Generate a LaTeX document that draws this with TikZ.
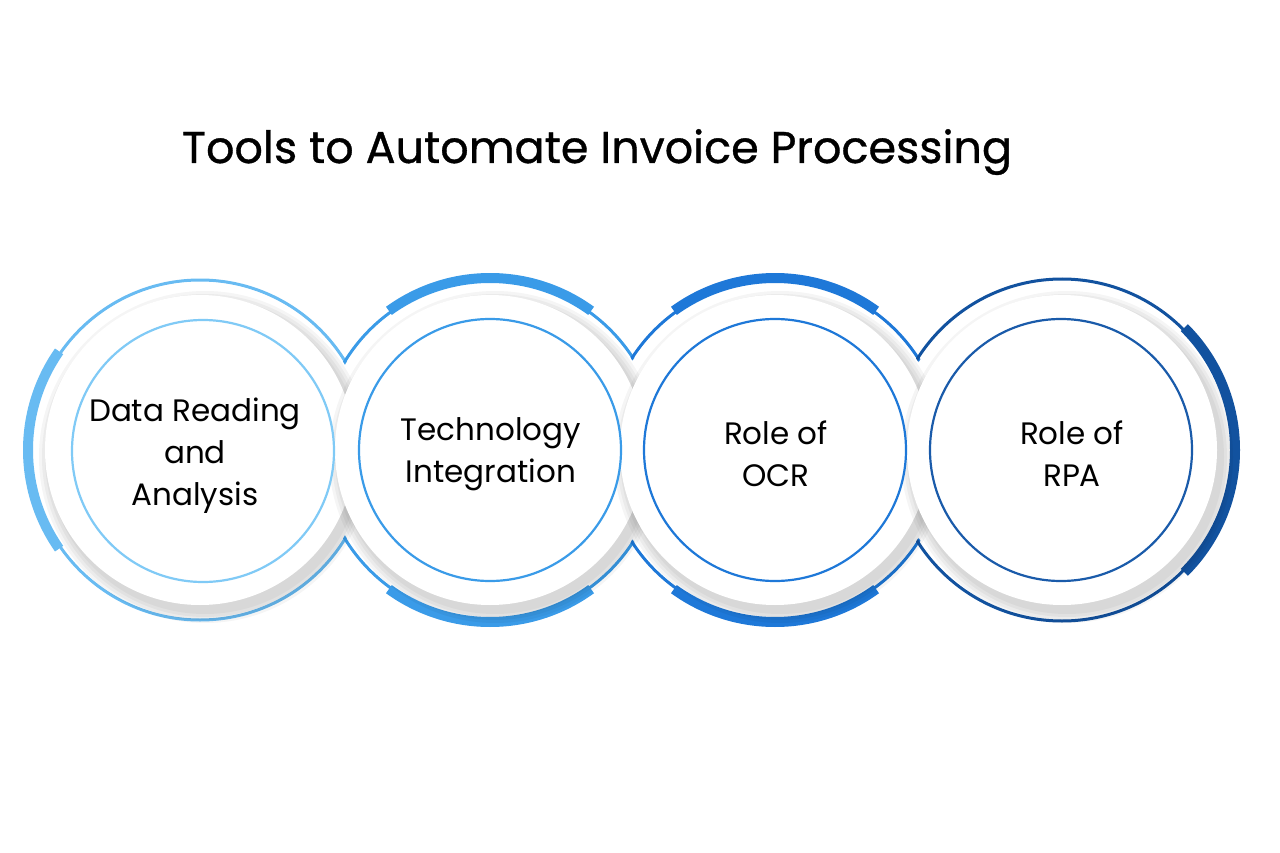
\documentclass[tikz,border=0pt]{standalone}
\usepackage{fontspec}
\setmainfont{Poppins}
\newfontfamily\titlefont[FakeBold=0.8]{Poppins}
\definecolor{ca}{HTML}{68BBF2}
\definecolor{cai}{HTML}{80CAF6}
\definecolor{cb}{HTML}{3A9BE8}
\definecolor{cc}{HTML}{1E78D8}
\definecolor{cd}{HTML}{12529F}
\definecolor{cdi}{HTML}{1A5BAA}
\begin{document}
\begin{tikzpicture}[x=1pt,y=-1pt,
  ring/.style={line width=3pt},
  thick arc/.style={line width=10pt},
  inner/.style={circle,draw,line width=2.2pt,minimum size=262pt,inner sep=0pt,fill=white},
  label/.style={align=center,font=\fontsize{31}{42}\selectfont},
  shade/.style={fill=black,fill opacity=0.04}]
\useasboundingbox (0,0) rectangle (1280,853);
\fill[white] (0,0) rectangle (1280,853);
\node[font=\titlefont\fontsize{44.5}{50}\selectfont,anchor=base] (title) at (597,163) {Tools to Automate Invoice Processing};
% thin outer rings
\draw[ring,ca] (200,450) circle[radius=170];
\draw[ring,cb] (490,450) circle[radius=170];
\draw[ring,cc] (775,450) circle[radius=170];
\draw[ring,cd] (1062,450) circle[radius=171];
% white disks hiding overlaps
\foreach \x in {200,490,775,1062} \fill[white] (\x,450) circle[radius=168];
% thick arcs
\draw[thick arc,ca] (200,450) ++(145:172) arc[start angle=145,end angle=215,radius=172];
\draw[thick arc,cb] (490,450) ++(54:172) arc[start angle=54,end angle=126,radius=172];
\draw[thick arc,cb] (490,450) ++(-54:172) arc[start angle=-54,end angle=-126,radius=172];
\draw[thick arc,cc] (775,450) ++(54:172) arc[start angle=54,end angle=126,radius=172];
\draw[thick arc,cc] (775,450) ++(-54:172) arc[start angle=-54,end angle=-126,radius=172];
\draw[thick arc,cd] (1062,450) ++(-45:173) arc[start angle=-45,end angle=45,radius=173];
% shadows and white disks
\foreach \x in {200,490,775,1062}{
  \foreach \r in {157,160,163,166} \fill[shade] (\x+5,457) circle[radius=\r];
  \fill[white] (\x,450) circle[radius=155];
}
\node[inner,draw=cai] (d1) at (203,451) {};
\node[inner,draw=cb] (d2) at (490,450) {};
\node[inner,draw=cc] (d3) at (775,450) {};
\node[inner,draw=cdi] (d4) at (1061,450) {};
\node[label] (t1) at (195,456) {Data Reading\\and\\Analysis};
\node[label] (t2) at (491,454) {Technology\\Integration};
\node[label] (t3) at (776,454) {Role of\\OCR};
\node[label] (t4) at (1072,454) {Role of\\RPA};
\end{tikzpicture}
\end{document}
